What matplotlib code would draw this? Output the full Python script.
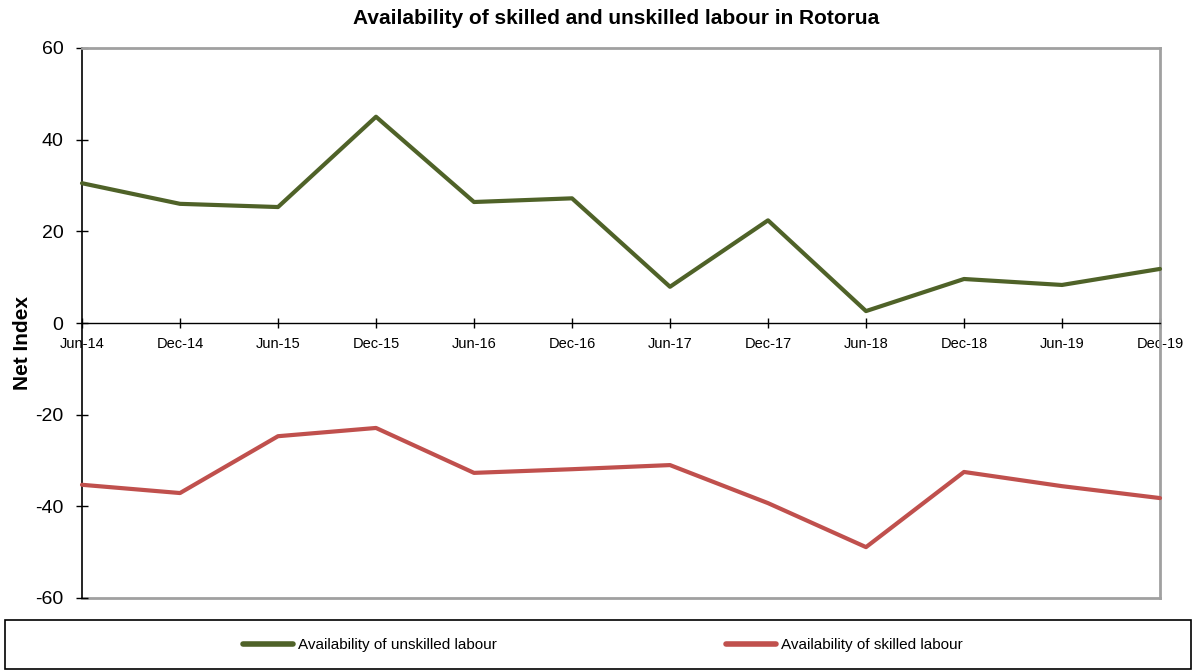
import matplotlib.pyplot as plt
from matplotlib.patches import Rectangle

plt.rcParams['font.family'] = ['Liberation Sans', 'DejaVu Sans']
plt.rcParams['axes.unicode_minus'] = False

periods = ["Jun-14", "Dec-14", "Jun-15", "Dec-15", "Jun-16", "Dec-16",
           "Jun-17", "Dec-17", "Jun-18", "Dec-18", "Jun-19", "Dec-19"]
unskilled = [30.5, 26.0, 25.3, 45.0, 26.4, 27.2, 7.9, 22.4, 2.6, 9.6, 8.3, 11.8]
skilled = [-35.3, -37.1, -24.7, -22.9, -32.7, -31.9, -31.0, -39.3, -48.9, -32.5, -35.6, -38.2]

fig = plt.figure(figsize=(11.93, 6.72), dpi=100)
ax = fig.add_axes([82 / 1193, 1 - 598 / 672, 1078 / 1193, 550 / 672])

x = range(len(periods))
green = "#4f6228"
red = "#c0504d"
ax.plot(x, unskilled, color=green, lw=3, solid_capstyle="round",
        label="Availability of unskilled labour", clip_on=False, zorder=3)
ax.plot(x, skilled, color=red, lw=3, solid_capstyle="round",
        label="Availability of skilled labour", clip_on=False, zorder=3)

ax.set_xlim(0, len(periods) - 1)
ax.set_ylim(-60, 60)
ax.set_yticks(range(-60, 61, 20))
ax.set_xticks(list(x))
ax.set_xticklabels(periods)

# category axis sits on the zero line
ax.spines["bottom"].set_position(("data", 0))
ax.spines["bottom"].set_color("black")
ax.spines["bottom"].set_linewidth(1.0)
ax.spines["left"].set_color("black")
ax.spines["left"].set_linewidth(1.2)
for side in ("top", "right"):
    ax.spines[side].set_color("#a0a0a0")
    ax.spines[side].set_linewidth(2)
ax.axhline(-60, color="#a0a0a0", lw=2, clip_on=False, zorder=1)

ax.tick_params(axis="x", direction="inout", length=7.5, width=1,
               labelsize=10.5, pad=6)
ax.tick_params(axis="y", direction="inout", length=8.6, width=1,
               labelsize=14, pad=9)

ax.set_ylabel("Net Index", fontsize=15, fontweight="bold")
ax.yaxis.set_label_coords(-0.0464, 0.464)
fig.text(0.5 + 20 / 1193, 1 - 18 / 672,
         "Availability of skilled and unskilled labour in Rotorua",
         fontsize=15, fontweight="bold", ha="center", va="center")

# legend frame spanning the full width below the plot
fig.patches.append(Rectangle((5 / 1193, 3 / 672), 1186 / 1193, 49 / 672,
                             transform=fig.transFigure, fill=False,
                             edgecolor="black", lw=1.2))
leg = fig.legend(loc="center", bbox_to_anchor=(0.505, 27 / 672), ncol=2,
                 frameon=False, fontsize=11, handlelength=3.3,
                 handletextpad=0.3, columnspacing=15)
for line in leg.get_lines():
    line.set_linewidth(4)

fig.savefig("out.png", dpi=100)
